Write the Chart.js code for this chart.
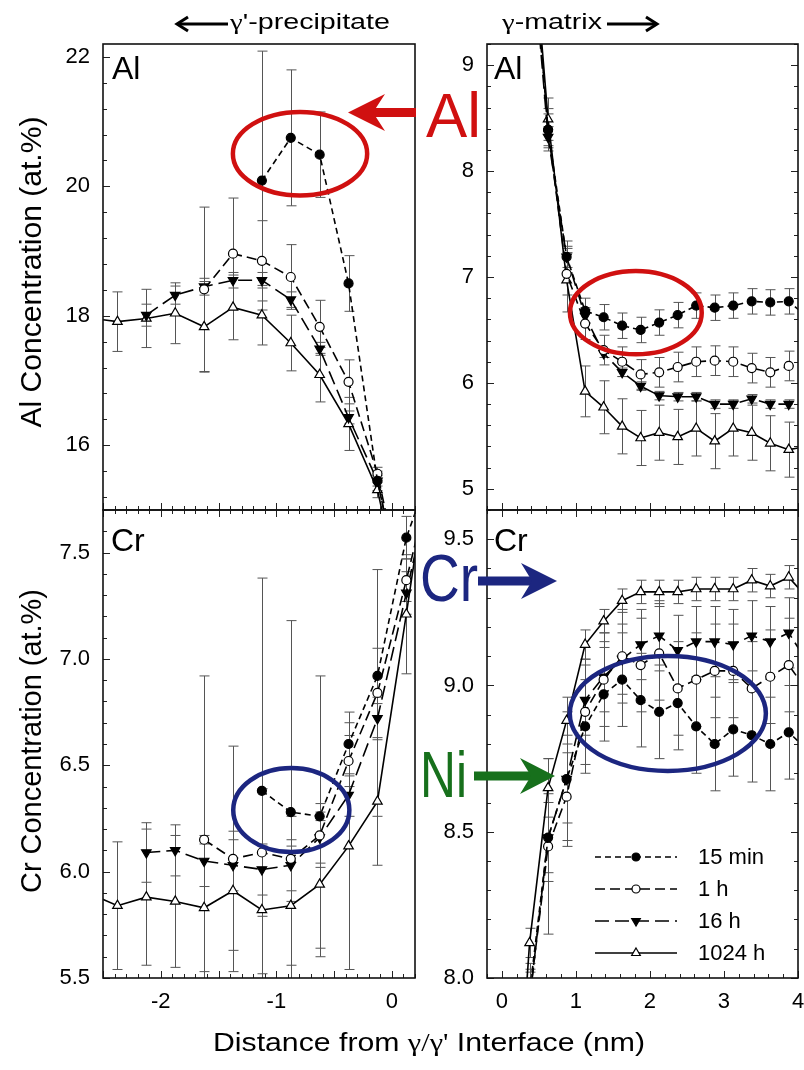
<!DOCTYPE html>
<html>
<head>
<meta charset="utf-8">
<script src="https://cdn.jsdelivr.net/npm/chart.js@4.4.1/dist/chart.umd.min.js"></script>
<style>
  body { margin: 0; background: #fff; width: 804px; height: 1070px; position: relative; overflow: hidden; }
  canvas { position: absolute; }
  svg { position: absolute; left: 0; top: 0; }
</style>
</head>
<body>
<canvas id="al-left"  width="440" height="560" style="left:0;top:0"></canvas>
<canvas id="al-right" width="420" height="560" style="left:400px;top:0"></canvas>
<canvas id="cr-left"  width="440" height="610" style="left:0;top:460px"></canvas>
<canvas id="cr-right" width="420" height="610" style="left:400px;top:460px"></canvas>

<svg width="804" height="1070" font-family="'Liberation Sans', Arial, sans-serif">
  <!-- headings over the panels -->
  <path d="M179 24 H228" stroke="#000" stroke-width="3" fill="none"/>
  <polyline points="188,17 177,24 188,31" stroke="#000" stroke-width="3" fill="none"/>
  <text x="230" y="29" font-size="22" textLength="160" lengthAdjust="spacingAndGlyphs"><tspan font-family="'Liberation Serif', serif">γ</tspan>'-precipitate</text>
  <text x="502" y="29" font-size="22" textLength="100" lengthAdjust="spacingAndGlyphs"><tspan font-family="'Liberation Serif', serif">γ</tspan>-matrix</text>
  <path d="M607 24 H655" stroke="#000" stroke-width="3" fill="none"/>
  <polyline points="646,17 657,24 646,31" stroke="#000" stroke-width="3" fill="none"/>

  <!-- panel element labels -->
  <text x="112" y="79" font-size="32">Al</text>
  <text x="494" y="79" font-size="32">Al</text>
  <text x="111" y="551" font-size="32">Cr</text>
  <text x="494" y="551" font-size="32">Cr</text>

  <!-- axis titles -->
  <text transform="translate(41,272) rotate(-90)" text-anchor="middle" font-size="30" textLength="311" lengthAdjust="spacingAndGlyphs">Al Concentration (at.%)</text>
  <text transform="translate(41,741) rotate(-90)" text-anchor="middle" font-size="30" textLength="304" lengthAdjust="spacingAndGlyphs">Cr Concentration (at.%)</text>
  <text x="429" y="1051" text-anchor="middle" font-size="25" textLength="432" lengthAdjust="spacingAndGlyphs">Distance from <tspan font-family="'Liberation Serif', serif">γ/γ'</tspan> Interface (nm)</text>

  <!-- red Al callout -->
  <rect x="372" y="108" width="44" height="9" fill="#d01010"/>
  <polygon points="348,112.5 385,94 373,112.5 385,131" fill="#d01010"/>
  <text x="426" y="137" font-size="63" fill="#d01010" textLength="55" lengthAdjust="spacingAndGlyphs">Al</text>

  <!-- blue Cr callout -->
  <text x="420" y="601" font-size="66" fill="#1c2680" textLength="58" lengthAdjust="spacingAndGlyphs">Cr</text>
  <rect x="478" y="576.5" width="56" height="9" fill="#1c2680"/>
  <polygon points="557,581 521,563 532,581 521,599" fill="#1c2680"/>

  <!-- green Ni callout -->
  <text x="420" y="797" font-size="65" fill="#17701c" textLength="47" lengthAdjust="spacingAndGlyphs">Ni</text>
  <rect x="474" y="771.5" width="58" height="9" fill="#17701c"/>
  <polygon points="555,776 520,758 531,776 520,794" fill="#17701c"/>
</svg>

<script>
/* ================= DATA ================= */
// distance from the gamma/gamma' interface (nm), shared by all panels
const distance = [-2.625, -2.375, -2.125, -1.875, -1.625, -1.375, -1.125, -0.875, -0.625, -0.375,
  -0.125, 0.125, 0.375, 0.625, 0.875, 1.125, 1.375, 1.625, 1.875, 2.125,
  2.375, 2.625, 2.875, 3.125, 3.375, 3.625, 3.875, 4.125];

const seriesLabels = ['15 min', '1 h', '16 h', '1024 h'];

// Al concentration (at.%)
const alMin15 = [null, null, null, null, null, null, 20.09, 20.75, 20.49, 18.50, 15.45, 13.4, 10.5, 8.39,
  7.19, 6.68, 6.62, 6.54, 6.50, 6.57, 6.64, 6.73, 6.71, 6.73, 6.77, 6.76, 6.77, 6.62];
const alH1 = [null, null, null, null, 18.41, 18.96, 18.85, 18.60, 17.83, 16.98, 15.56, 13.5, 10.5, 8.39,
  7.03, 6.56, 6.31, 6.20, 6.08, 6.10, 6.15, 6.20, 6.21, 6.20, 6.14, 6.10, 6.16, 6.18];
const alH16 = [null, null, 18.01, 18.32, 18.45, 18.55, 18.55, 18.25, 17.49, 16.43, 15.45, 13.4, 10.4, 8.32,
  7.19, 6.63, 6.28, 6.10, 5.97, 5.88, 5.87, 5.87, 5.80, 5.80, 5.85, 5.80, 5.80, 5.80];
const alH1024 = [17.97, 17.91, 17.96, 18.04, 17.83, 18.13, 18.01, 17.58, 17.09, 16.33, 15.31, 13.3, 10.6, 8.49,
  6.97, 5.92, 5.77, 5.59, 5.48, 5.53, 5.49, 5.57, 5.45, 5.57, 5.53, 5.43, 5.37, 5.40];

const alMin15Err = [null, null, null, null, null, null, 2.0, 1.05, 0.66, 0.43, 0.15, 0.1, 0.1, 0.15,
  0.15, 0.12, 0.12, 0.12, 0.12, 0.12, 0.12, 0.12, 0.12, 0.12, 0.12, 0.12, 0.12, 0.12];
const alH1Err = [null, null, null, null, 1.27, 0.86, 0.62, 0.5, 0.41, 0.34, 0.1, 0.1, 0.1, 0.2,
  0.2, 0.15, 0.14, 0.14, 0.14, 0.14, 0.14, 0.14, 0.14, 0.14, 0.14, 0.14, 0.14, 0.14];
const alH16Err = [null, null, 0.17, 0.14, 0.13, 0.12, 0.12, 0.12, 0.1, 0.1, 0.08, 0.08, 0.08, 0.1,
  0.1, 0.06, 0.04, 0.04, 0.04, 0.04, 0.04, 0.04, 0.04, 0.04, 0.04, 0.04, 0.04, 0.04];
const alH1024Err = [0.46, 0.46, 0.45, 0.47, 0.7, 0.5, 0.46, 0.43, 0.42, 0.41, 0.12, 0.1, 0.1, 0.2,
  0.3, 0.24, 0.25, 0.26, 0.26, 0.26, 0.26, 0.26, 0.26, 0.26, 0.26, 0.26, 0.26, 0.26];

// Cr concentration (at.%)
const crMin15 = [null, null, null, null, null, null, 6.38, 6.28, 6.26, 6.60, 6.92, 7.57, 7.95, 8.48,
  8.68, 8.86, 8.97, 9.02, 8.95, 8.91, 8.94, 8.86, 8.80, 8.85, 8.83, 8.80, 8.84, 8.78];
const crH1 = [null, null, null, null, 6.15, 6.06, 6.09, 6.06, 6.17, 6.52, 6.84, 7.37, 7.93, 8.45,
  8.62, 8.91, 9.02, 9.10, 9.07, 9.11, 8.99, 9.02, 9.05, 9.05, 8.99, 9.03, 9.07, 8.98];
const crH16 = [null, null, 6.09, 6.10, 6.05, 6.03, 6.01, 6.03, 6.16, 6.36, 6.72, 7.31, 7.92, 8.48,
  8.68, 8.95, 9.03, 9.09, 9.14, 9.17, 9.12, 9.15, 9.15, 9.14, 9.17, 9.15, 9.18, 9.08];
const crH1024 = [5.90, 5.84, 5.88, 5.86, 5.83, 5.91, 5.82, 5.84, 5.94, 6.12, 6.33, 7.21, 8.12, 8.65,
  8.88, 9.14, 9.22, 9.29, 9.32, 9.32, 9.32, 9.33, 9.33, 9.33, 9.36, 9.34, 9.37, 9.30];

const crMin15Err = [null, null, null, null, null, null, 1.0, 0.9, 0.66, 0.15, 0.13, 0.1, 0.1, 0.15,
  0.15, 0.16, 0.16, 0.16, 0.16, 0.16, 0.16, 0.16, 0.16, 0.16, 0.16, 0.16, 0.16, 0.16];
const crH1Err = [null, null, null, null, 0.77, 0.53, 0.3, 0.2, 0.15, 0.12, 0.58, 0.1, 0.1, 0.3,
  0.15, 0.18, 0.16, 0.16, 0.16, 0.16, 0.16, 0.16, 0.16, 0.16, 0.16, 0.16, 0.16, 0.16];
const crH16Err = [null, null, 0.14, 0.12, 0.12, 0.12, 0.12, 0.12, 0.12, 0.1, 0.1, 0.1, 0.1, 0.12,
  0.23, 0.12, 0.12, 0.12, 0.12, 0.12, 0.12, 0.12, 0.12, 0.12, 0.12, 0.12, 0.12, 0.12];
const crH1024Err = [0.3, 0.3, 0.32, 0.31, 0.3, 0.28, 0.3, 0.28, 0.3, 0.58, 0.3, 0.28, 0.05, 0.1,
  0.08, 0.05, 0.04, 0.04, 0.04, 0.04, 0.04, 0.04, 0.04, 0.04, 0.04, 0.04, 0.04, 0.04];

// tick labels
const xTicksLeft = [-2, -1, 0];
const xTicksRight = [0, 1, 2, 3, 4];
const alTicksLeft = [16, 18, 20, 22];
const alTicksRight = [5, 6, 7, 8, 9];
const crTicksLeft = [5.5, 6.0, 6.5, 7.0, 7.5];
const crTicksRight = [8.0, 8.5, 9.0, 9.5];

/* ================= STYLE ================= */
const FONT = "'Liberation Sans', Arial, sans-serif";
Chart.defaults.font.family = FONT;
Chart.defaults.color = '#000';

const seriesStyle = [
  { dash: [6, 4], point: 'circle', rot: 0, fill: '#000', r: 4.5 },
  { dash: [10, 5], point: 'circle', rot: 0, fill: '#fff', r: 4.5 },
  { dash: [14, 6], point: 'triangle', rot: 180, fill: '#000', r: 5.5 },
  { dash: [], point: 'triangle', rot: 0, fill: '#fff', r: 5.5 }
];

/* ================= PLUGINS ================= */
const errorBars = {
  id: 'errorBars',
  beforeDatasetsDraw(chart) {
    const { ctx, chartArea: a, scales: { x, y } } = chart;
    ctx.save();
    ctx.beginPath();
    ctx.rect(a.left, a.top, a.right - a.left, a.bottom - a.top);
    ctx.clip();
    ctx.strokeStyle = '#555';
    ctx.lineWidth = 1;
    chart.data.datasets.forEach(ds => {
      ds.data.forEach((p, j) => {
        const e = ds.errs[j];
        if (p.y == null || !e) return;
        const px = Math.round(x.getPixelForValue(p.x)) + 0.5;
        const y1 = y.getPixelForValue(p.y + e);
        const y2 = y.getPixelForValue(p.y - e);
        ctx.beginPath();
        ctx.moveTo(px, y1); ctx.lineTo(px, y2);
        ctx.moveTo(px - 5, y1); ctx.lineTo(px + 5, y1);
        ctx.moveTo(px - 5, y2); ctx.lineTo(px + 5, y2);
        ctx.stroke();
      });
    });
    ctx.restore();
  }
};

function decoPlugin(cfg) {
  return {
    id: 'deco',
    afterDatasetsDraw(chart) {
      const { ctx, scales: { x, y } } = chart;
      (cfg.rings || []).forEach(r => {
        const x0 = x.getPixelForValue(r.x[0]), x1 = x.getPixelForValue(r.x[1]);
        const y0 = y.getPixelForValue(r.y[0]), y1 = y.getPixelForValue(r.y[1]);
        ctx.save();
        ctx.strokeStyle = r.color;
        ctx.lineWidth = 4.5;
        ctx.beginPath();
        ctx.ellipse((x0 + x1) / 2, (y0 + y1) / 2, Math.abs(x1 - x0) / 2, Math.abs(y1 - y0) / 2, 0, 0, Math.PI * 2);
        ctx.stroke();
        ctx.restore();
      });
    },
    afterDraw(chart) {
      const { ctx, chartArea: a, scales: { x, y } } = chart;
      ctx.save();
      ctx.strokeStyle = '#222';
      ctx.lineWidth = 1;
      const near = (v, step) => Math.abs(v / step - Math.round(v / step)) < 1e-6;
      // x ticks, pointing inward
      const xa = Math.ceil(x.min / cfg.xMinor - 1e-6), xb = Math.floor(x.max / cfg.xMinor + 1e-6);
      for (let k = xa; k <= xb; k++) {
        const v = k * cfg.xMinor;
        const len = near(v, cfg.xMajor) ? 7 : 4;
        const px = Math.round(x.getPixelForValue(v)) + 0.5;
        ctx.beginPath();
        ctx.moveTo(px, a.bottom); ctx.lineTo(px, a.bottom - len);
        if (cfg.topTicks) { ctx.moveTo(px, a.top); ctx.lineTo(px, a.top + len); }
        ctx.stroke();
      }
      // y ticks
      const ya = Math.ceil(y.min / cfg.yMinor - 1e-6), yb = Math.floor(y.max / cfg.yMinor + 1e-6);
      for (let k = ya; k <= yb; k++) {
        const v = k * cfg.yMinor;
        const len = cfg.yMajorList.some(m => Math.abs(m - v) < 1e-6) ? 7 : 4;
        const py = Math.round(y.getPixelForValue(v)) + 0.5;
        ctx.beginPath();
        ctx.moveTo(a.left, py); ctx.lineTo(a.left + len, py);
        if (cfg.rightTicks) { ctx.moveTo(a.right, py); ctx.lineTo(a.right - len, py); }
        ctx.stroke();
      }
      // frame
      ctx.lineWidth = 1.6;
      ctx.strokeStyle = '#111';
      ctx.strokeRect(a.left, a.top, a.right - a.left, a.bottom - a.top);

      // legend
      if (cfg.legend) {
        chart.data.datasets.forEach((ds, i) => {
          const ly = a.top + 347 + i * 32;
          const lx0 = a.left + 108, lx1 = a.left + 190, lm = a.left + 149;
          ctx.strokeStyle = '#000';
          ctx.lineWidth = 1.6;
          ctx.setLineDash(ds.borderDash);
          ctx.beginPath();
          ctx.moveTo(lx0, ly); ctx.lineTo(lx1, ly);
          ctx.stroke();
          ctx.setLineDash([]);
          ctx.fillStyle = ds.pointBackgroundColor;
          ctx.strokeStyle = '#000';
          ctx.lineWidth = 1.2;
          Chart.helpers.drawPoint(ctx, {
            pointStyle: ds.pointStyle, rotation: ds.pointRotation,
            radius: ds.pointRadius - 0.5, borderWidth: 1.2
          }, lm, ly);
          ctx.fillStyle = '#000';
          ctx.font = '22px ' + FONT;
          ctx.textBaseline = 'middle';
          ctx.textAlign = 'left';
          ctx.fillText(ds.label, a.left + 211, ly + 1);
        });
      }
      ctx.restore();
    }
  };
}

/* ================= PANELS ================= */
function makePanel(id, values, errors, cfg) {
  const datasets = values.map((vals, i) => {
    const st = seriesStyle[i];
    return {
      label: seriesLabels[i],
      data: distance.map((d, j) => ({ x: d, y: vals[j] })),
      errs: errors[i],
      borderColor: '#000',
      borderWidth: 1.6,
      borderDash: st.dash,
      pointStyle: st.point,
      pointRotation: st.rot,
      pointRadius: st.r,
      pointBackgroundColor: st.fill,
      pointBorderColor: '#000',
      pointBorderWidth: 1.2,
      tension: 0,
      fill: false,
      spanGaps: false,
      clip: 0
    };
  });

  return new Chart(document.getElementById(id), {
    type: 'line',
    data: { datasets },
    options: {
      responsive: false,
      animation: false,
      devicePixelRatio: 1,
      layout: { padding: cfg.padding },
      plugins: { legend: { display: false }, tooltip: { enabled: false } },
      scales: {
        x: {
          type: 'linear',
          min: cfg.xRange[0], max: cfg.xRange[1],
          bounds: 'data',
          afterBuildTicks: s => { s.ticks = cfg.xTicks.map(v => ({ value: v })); },
          afterFit: s => { s.height = cfg.xHeight; },
          grid: { display: false, drawTicks: false },
          border: { display: false },
          ticks: {
            display: cfg.xLabels, autoSkip: false, maxRotation: 0, padding: 11,
            color: '#000', font: { size: 22, family: FONT },
            callback: v => String(v)
          }
        },
        y: {
          type: 'linear',
          min: cfg.yRange[0], max: cfg.yRange[1],
          bounds: 'data',
          afterBuildTicks: s => { s.ticks = cfg.yTicks.map(v => ({ value: v })); },
          afterFit: s => { s.width = cfg.yWidth; },
          grid: { display: false, drawTicks: false },
          border: { display: false },
          ticks: {
            autoSkip: false, padding: 13, color: '#000',
            font: { size: 22, family: FONT },
            callback: v => cfg.yFmt(v)
          }
        }
      }
    },
    plugins: [errorBars, decoPlugin(cfg)]
  });
}

const RED = '#d01010', BLUE = '#1c2680';
const intFmt = v => String(v);
const oneFmt = v => v.toFixed(1);

makePanel('al-left', [alMin15, alH1, alH16, alH1024], [alMin15Err, alH1Err, alH16Err, alH1024Err], {
  padding: { left: 0, top: 44, right: 25, bottom: 50 },
  xRange: [-2.5, 0.2], yRange: [15, 22.2],
  xTicks: xTicksLeft, yTicks: alTicksLeft, xLabels: false, xHeight: 0, yWidth: 103, yFmt: intFmt,
  xMinor: 0.1, xMajor: 0.5, yMinor: 0.4, yMajorList: alTicksLeft,
  rings: [{ x: [-1.376, -0.214], y: [21.15, 19.86], color: RED }]
});

makePanel('al-right', [alMin15, alH1, alH16, alH1024], [alMin15Err, alH1Err, alH16Err, alH1024Err], {
  padding: { left: 0, top: 44, right: 22, bottom: 50 },
  xRange: [-0.2, 4], yRange: [4.8, 9.2],
  xTicks: xTicksRight, yTicks: alTicksRight, xLabels: false, xHeight: 0, yWidth: 87, yFmt: intFmt,
  xMinor: 0.2, xMajor: 1, yMinor: 0.2, yMajorList: alTicksRight, rightTicks: true,
  rings: [{ x: [0.92, 2.70], y: [7.056, 6.27], color: RED }]
});

makePanel('cr-left', [crMin15, crH1, crH16, crH1024], [crMin15Err, crH1Err, crH16Err, crH1024Err], {
  padding: { left: 0, top: 50, right: 25, bottom: 30 },
  xRange: [-2.5, 0.2], yRange: [5.5, 7.7],
  xTicks: xTicksLeft, yTicks: crTicksLeft, xLabels: true, xHeight: 62, yWidth: 103, yFmt: oneFmt,
  xMinor: 0.1, xMajor: 0.5, yMinor: 0.1, yMajorList: crTicksLeft, topTicks: true,
  rings: [{ x: [-1.373, -0.368], y: [6.487, 6.092], color: BLUE }]
});

makePanel('cr-right', [crMin15, crH1, crH16, crH1024], [crMin15Err, crH1Err, crH16Err, crH1024Err], {
  padding: { left: 0, top: 50, right: 22, bottom: 30 },
  xRange: [-0.2, 4], yRange: [8.0, 9.6],
  xTicks: xTicksRight, yTicks: crTicksRight, xLabels: true, xHeight: 62, yWidth: 87, yFmt: oneFmt,
  xMinor: 0.2, xMajor: 1, yMinor: 0.1, yMajorList: crTicksRight, rightTicks: true, topTicks: true,
  rings: [{ x: [0.918, 3.566], y: [9.101, 8.708], color: BLUE }],
  legend: true
});
</script>
</body>
</html>
